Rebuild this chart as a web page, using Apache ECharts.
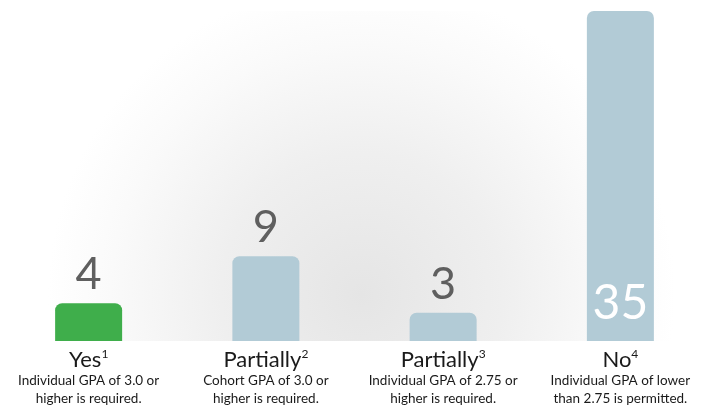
<!DOCTYPE html>
<html>
<head>
<meta charset="utf-8">
<script src="https://cdn.jsdelivr.net/npm/echarts@6/dist/echarts.min.js"></script>
<style>
  html, body { margin: 0; padding: 0; background: #fff; }
  #chart { width: 709px; height: 410px; }
</style>
</head>
<body>
<div id="chart"></div>
<script>
// data
var categories = ['Yes', 'Partially', 'Partially', 'No']
var footnotes = ['1', '2', '3', '4']
var notes = [
  ['Individual GPA of 3.0 or', 'higher is required.'],
  ['Cohort GPA of 3.0 or', 'higher is required.'],
  ['Individual GPA of 2.75 or', 'higher is required.'],
  ['Individual GPA of lower', 'than 2.75 is permitted.']
]
var counts = [4, 9, 3, 35]

var barColors = ['#3fae4b', '#b2cbd6', '#b2cbd6', '#b2cbd6']
var fontFamily = 'Lato, "Open Sans", sans-serif'

var maxCount = Math.max.apply(null, counts)

// the tallest bar carries its number inside, in white
var barData = counts.map(function (v, i) {
  var item = { value: v, itemStyle: { color: barColors[i] } }
  if (v === maxCount) {
    item.label = {
      position: 'insideBottom',
      distance: 13,
      color: '#ffffff',
      fontSize: 48
    }
  }
  return item
})

var chart = echarts.init(document.getElementById('chart'))
chart.setOption({
  animation: false,
  textStyle: { fontFamily: fontFamily },
  grid: {
    top: 11,
    bottom: 69,
    left: -8,
    right: -6,
    show: true,
    borderWidth: 0,
    backgroundColor: {
      type: 'radial',
      x: 0.51,
      y: 0.86,
      r: 0.95,
      colorStops: [
        { offset: 0, color: '#e5e5e5' },
        { offset: 0.45, color: '#efefef' },
        { offset: 0.8, color: '#fafafa' },
        { offset: 1, color: '#ffffff' }
      ]
    }
  },
  xAxis: {
    type: 'category',
    data: categories,
    axisLine: { show: false },
    axisTick: { show: false },
    axisLabel: {
      margin: 6,
      interval: 0,
      formatter: function (val, idx) {
        return '{a|' + val + '}{s|' + footnotes[idx] + '}\n' +
          '{b|' + notes[idx][0] + '}\n{b|' + notes[idx][1] + '}'
      },
      rich: {
        a: { fontSize: 22, color: '#1a1a1a', lineHeight: 25, fontFamily: fontFamily },
        s: { fontSize: 12, color: '#1a1a1a', lineHeight: 25, verticalAlign: 'top', padding: [1, 0, 0, 0], fontFamily: fontFamily },
        b: { fontSize: 13.5, color: '#1a1a1a', lineHeight: 18, fontFamily: fontFamily }
      }
    }
  },
  yAxis: {
    type: 'value',
    min: 0,
    max: maxCount,
    show: false,
    splitLine: { show: false }
  },
  series: [
    {
      type: 'bar',
      data: barData,
      barWidth: 67,
      itemStyle: { borderRadius: [7, 7, 0, 0] },
      label: {
        show: true,
        position: 'top',
        distance: 6,
        color: '#5f5f5f',
        fontSize: 45
      }
    }
  ]
})
</script>
</body>
</html>
